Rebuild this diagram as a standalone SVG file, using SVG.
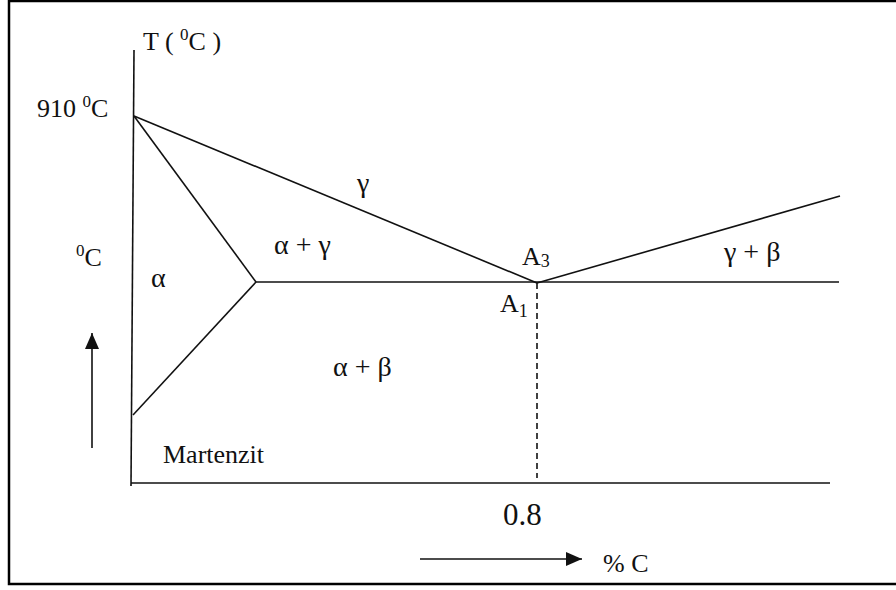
<svg xmlns="http://www.w3.org/2000/svg" width="896" height="590" viewBox="0 0 896 590">
<style>
  .ln{stroke:#111;stroke-width:1.6;fill:none}
  .t{font-family:"Liberation Serif","Times New Roman",serif;font-size:26px;fill:#111}
  .g{font-family:"Liberation Serif","Times New Roman",serif;font-size:28px;fill:#111}
</style>
<defs>
  <marker id="ah2" viewBox="0 0 16 16" refX="16" refY="8" markerWidth="16" markerHeight="16" markerUnits="userSpaceOnUse" orient="auto">
    <path d="M0,1 L16,8 L0,15 Z" fill="#111"/>
  </marker>
</defs>
<rect x="0" y="0" width="896" height="590" fill="#fff"/>
<rect x="9" y="1" width="900" height="583" fill="none" stroke="#000" stroke-width="2.5"/>
<g id="connectors">
  <line class="ln" x1="134" y1="50" x2="131" y2="486"/>
  <line class="ln" x1="131" y1="483" x2="830" y2="483"/>
  <line class="ln" x1="134" y1="116" x2="537" y2="283"/>
  <line class="ln" x1="134" y1="116" x2="256" y2="282"/>
  <line class="ln" x1="256" y1="282" x2="133" y2="415"/>
  <line class="ln" x1="256" y1="282" x2="839" y2="282"/>
  <line class="ln" x1="537" y1="283" x2="840" y2="196"/>
  <line class="ln" x1="537" y1="283" x2="537" y2="478" stroke-dasharray="6,4"/>
  <line class="ln" x1="92" y1="448" x2="92" y2="333" marker-end="url(#ah2)"/>
  <line class="ln" x1="420" y1="559" x2="582" y2="559" marker-end="url(#ah2)"/>
</g>
<g id="labels">
  <text class="t" x="143" y="50">T ( <tspan font-size="17" dy="-10">0</tspan><tspan dy="10">C )</tspan></text>
  <text class="t" x="37" y="117">910 <tspan font-size="17" dy="-10">0</tspan><tspan dy="10">C</tspan></text>
  <text class="t" x="76" y="266"><tspan font-size="17" dy="-10">0</tspan><tspan dy="10">C</tspan></text>
  <text class="g" x="151" y="287">α</text>
  <text class="g" x="357" y="192">γ</text>
  <text class="g" x="274" y="254">α + γ</text>
  <text class="t" x="522" y="265">A<tspan font-size="18" dy="2">3</tspan></text>
  <text class="t" x="500" y="312">A<tspan font-size="18" dy="5">1</tspan></text>
  <text class="g" x="724" y="261">γ + β</text>
  <text class="g" x="333" y="376">α + β</text>
  <text class="t" x="163" y="463">Martenzit</text>
  <text class="t" x="503" y="525" style="font-size:31px">0.8</text>
  <text class="t" x="603" y="572">% C</text>
</g>
</svg>
